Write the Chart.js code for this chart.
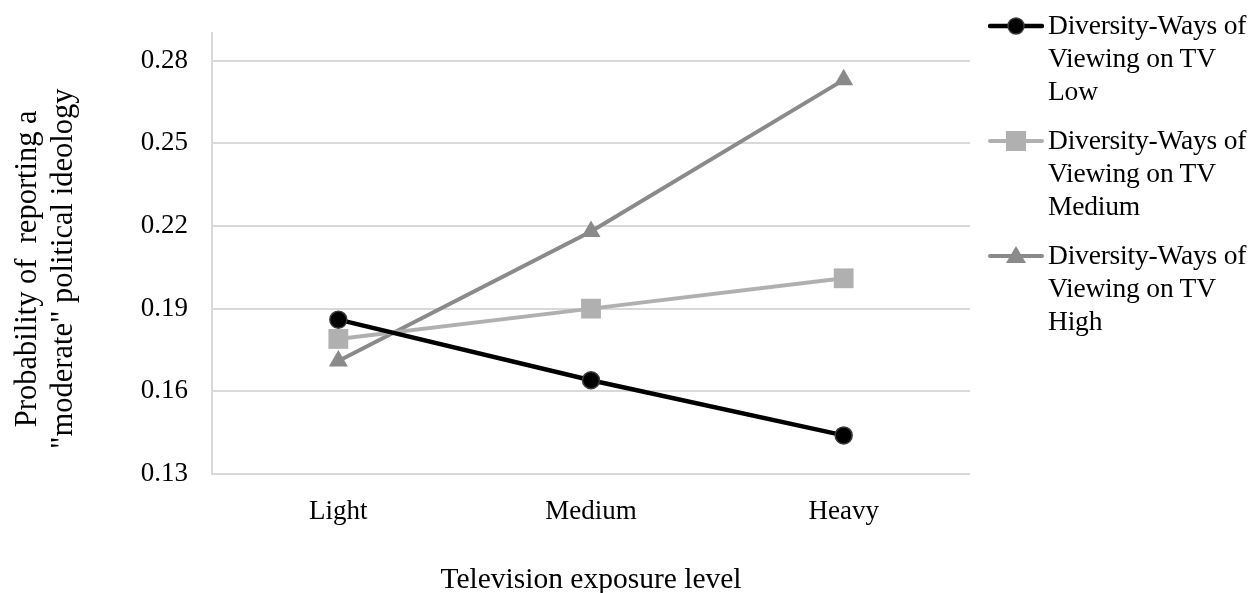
<!DOCTYPE html>
<html>
<head>
<meta charset="utf-8">
<script src="https://cdn.jsdelivr.net/npm/chart.js@4.4.1/dist/chart.umd.min.js"></script>
<style>
  html, body { margin: 0; padding: 0; background: #ffffff; }
  #wrap { position: relative; width: 1260px; height: 593px; }
  #legend { position: absolute; left: 988px; top: 8px; font-family: "Liberation Serif", "Times New Roman", serif; font-size: 27.5px; line-height: 33px; color: #000; }
  .item { display: flex; align-items: flex-start; margin-bottom: 16px; }
  .item svg { flex: none; margin-top: 0px; }
  .item .txt { margin-left: 4px; white-space: nowrap; letter-spacing: -0.2px; }
</style>
</head>
<body>
<div id="wrap">
  <canvas id="c" width="1260" height="593"></canvas>
  <div id="legend"></div>
</div>
<script>
const categories = ["Light", "Medium", "Heavy"];
const seriesNames = [
  ["Diversity-Ways of", "Viewing on TV", "Low"],
  ["Diversity-Ways of", "Viewing on TV", "Medium"],
  ["Diversity-Ways of", "Viewing on TV", "High"]
];
const lowValues = [0.186, 0.164, 0.144];
const mediumValues = [0.179, 0.190, 0.201];
const highValues = [0.171, 0.218, 0.273];
const yTickValues = [0.13, 0.16, 0.19, 0.22, 0.25, 0.28];
const xTitle = "Television exposure level";
const yTitle = ["Probability of  reporting a", "\"moderate\" political ideology"];

const FONT = "'Liberation Serif', 'Times New Roman', serif";

const styles = [
  { color: "#000000", border: "#3a3a3a", shape: "circle", r: 8.5, w: 4.5 },
  { color: "#b0b0b0", border: "#b0b0b0", shape: "rect", r: 14, w: 4 },
  { color: "#8a8a8a", border: "#8a8a8a", shape: "triangle", r: 11, w: 4 }
];
const valueSets = [lowValues, mediumValues, highValues];

const datasets = valueSets.map((vals, i) => ({
  label: seriesNames[i].join(" "),
  data: vals,
  borderColor: styles[i].color,
  backgroundColor: styles[i].color,
  borderWidth: styles[i].w,
  pointStyle: styles[i].shape,
  pointRadius: styles[i].r,
  pointHoverRadius: styles[i].r,
  pointBackgroundColor: styles[i].color,
  pointBorderColor: styles[i].border,
  pointBorderWidth: i === 0 ? 1.5 : 0,
  tension: 0
}));

// trailing non-breaking spaces nudge the rotated title slightly downward, as in the reference
const pad = "\u00a0\u00a0\u00a0\u00a0";

new Chart(document.getElementById("c"), {
  type: "line",
  data: { labels: categories, datasets: datasets },
  options: {
    responsive: false,
    animation: false,
    devicePixelRatio: 1,
    layout: { padding: { left: 0, right: 290, top: 33, bottom: 0 } },
    plugins: { legend: { display: false }, tooltip: { enabled: false } },
    scales: {
      x: {
        offset: true,
        grid: { display: false, drawTicks: false },
        border: { display: false },
        ticks: { color: "#000", font: { family: FONT, size: 27 }, padding: 22 },
        title: { display: true, text: xTitle, color: "#000", font: { family: FONT, size: 29.5 }, padding: { top: 38, bottom: -5 } },
        afterFit: (s) => { s.height = 119; }
      },
      y: {
        min: 0.13,
        max: 0.29,
        afterBuildTicks: (s) => { s.ticks = yTickValues.map(v => ({ value: v })); },
        grid: { color: "#d9d9d9", lineWidth: 2, drawTicks: false },
        border: { display: true, color: "#d9d9d9", width: 2 },
        ticks: { color: "#000", font: { family: FONT, size: 27 }, padding: 24, callback: (v) => Number(v).toFixed(2) },
        title: { display: true, text: yTitle.map(t => t + pad), color: "#000", font: { family: FONT, size: 30.5, lineHeight: 1.18 }, padding: { top: 10, bottom: 0 } },
        afterFit: (s) => { s.width = 212; s.paddingTop = 0; s.paddingBottom = 0; }
      }
    }
  }
});

// HTML legend built from the datasets
const legend = document.getElementById("legend");
datasets.forEach((d, i) => {
  const st = styles[i];
  let marker = "";
  if (st.shape === "circle") marker = '<circle cx="28" cy="18" r="8" fill="#000" stroke="#3a3a3a" stroke-width="1.5"/>';
  else if (st.shape === "rect") marker = '<rect x="18" y="8" width="20" height="20" fill="' + st.color + '"/>';
  else marker = '<polygon points="28,8 38,25 18,25" fill="' + st.color + '"/>';
  const item = document.createElement("div");
  item.className = "item";
  item.innerHTML = '<svg width="56" height="36" viewBox="0 0 56 36"><line x1="2" y1="18" x2="54" y2="18" stroke="' + st.color + '" stroke-width="' + st.w + '" stroke-linecap="round"/>' + marker + '</svg>' +
    '<div class="txt">' + seriesNames[i].join("<br>") + '</div>';
  legend.appendChild(item);
});
</script>
</body>
</html>
